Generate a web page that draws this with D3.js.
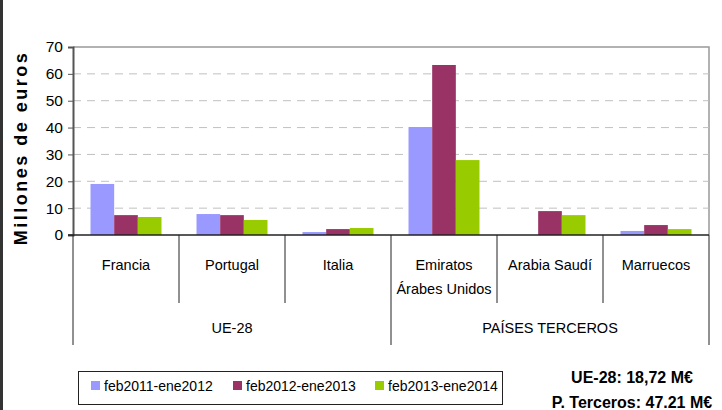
<!DOCTYPE html>
<html>
<head>
<meta charset="utf-8">
<script src="https://cdn.jsdelivr.net/npm/d3@7"></script>
<style>
  body { margin: 0; background: #fff; }
  svg text { font-family: "Liberation Sans", Arial, sans-serif; fill: #000; }
</style>
</head>
<body>
<svg id="chart" width="722" height="410"></svg>
<script>
// data
var categories = ["Francia", "Portugal", "Italia", "Emiratos|Árabes Unidos", "Arabia Saudí", "Marruecos"];
var groups = [
    {name: "UE-28", from: 0, to: 3},
    {name: "PAÍSES TERCEROS", from: 3, to: 6}
];
var series = ["feb2011-ene2012", "feb2012-ene2013", "feb2013-ene2014"];
var s2011 = [19.0, 7.8, 1.1, 40.2, 0, 1.5];
var s2012 = [7.4, 7.4, 2.2, 63.3, 8.9, 3.7];
var s2013 = [6.7, 5.6, 2.6, 27.9, 7.4, 2.2];
var yTicks = [0, 10, 20, 30, 40, 50, 60, 70];
var notes = ["UE-28: 18,72 M€", "P. Terceros: 47.21 M€"];

var colors = ["#9999ff", "#993366", "#99cc00"];

var svg = d3.select("#chart");
var plotLeft = 73, plotRight = 709, plotTop = 47, plotBottom = 235;

// outer left frame line
svg.append("line").attr("x1", 1.5).attr("x2", 1.5).attr("y1", 0).attr("y2", 410)
    .attr("stroke", "#333").attr("stroke-width", 3);

var x0 = d3.scaleBand().domain(d3.range(categories.length)).range([plotLeft, plotRight]).padding(0);
var x1 = d3.scaleBand().domain(d3.range(series.length)).range([0, x0.bandwidth()])
    .paddingInner(0).paddingOuter(0.74);
var y = d3.scaleLinear().domain([0, 70]).range([plotBottom, plotTop]);

// plot frame (top / right)
svg.append("path")
    .attr("d", "M" + plotLeft + "," + plotTop + "H" + plotRight + "V" + plotBottom)
    .attr("fill", "none").attr("stroke", "#999").attr("stroke-width", 1.5);

// dashed grid
svg.append("g").selectAll("line").data(yTicks.filter(d => d > 0 && d < 70)).enter().append("line")
    .attr("x1", plotLeft).attr("x2", plotRight)
    .attr("y1", d => y(d)).attr("y2", d => y(d))
    .attr("stroke", "#c0c0c0").attr("stroke-dasharray", "8,6");

// bars
var rows = categories.map((c, i) => [s2011[i], s2012[i], s2013[i]]);
var cat = svg.append("g").selectAll("g").data(rows).enter().append("g")
    .attr("transform", (d, i) => "translate(" + x0(i) + ",0)");
cat.selectAll("rect").data(d => d).enter().append("rect")
    .attr("x", (d, j) => x1(j))
    .attr("width", x1.bandwidth())
    .attr("y", d => y(d))
    .attr("height", d => plotBottom - y(d))
    .attr("fill", (d, j) => colors[j]);

// y axis
var yAxis = d3.axisLeft(y).tickValues(yTicks).tickSize(5).tickPadding(5);
var ya = svg.append("g").attr("transform", "translate(" + plotLeft + ",0)").call(yAxis);
ya.select(".domain").attr("stroke", "#555").attr("stroke-width", 2);
ya.selectAll(".tick line").attr("stroke", "#555");
ya.selectAll(".tick text").attr("font-size", 15.5)
    .style("font-family", "'Liberation Sans', Arial, sans-serif");

// zero line
svg.append("line").attr("x1", plotLeft - 5).attr("x2", plotRight).attr("y1", plotBottom).attr("y2", plotBottom)
    .attr("stroke", "#222").attr("stroke-width", 1.5);

// category dividers
svg.append("g").selectAll("line").data(d3.range(categories.length + 1)).enter().append("line")
    .attr("x1", i => i < categories.length ? x0(i) : plotRight)
    .attr("x2", i => i < categories.length ? x0(i) : plotRight)
    .attr("y1", plotBottom)
    .attr("y2", i => (i % 3 == 0) ? 345 : 303)
    .attr("stroke", "#222").attr("stroke-width", 1);

// category labels
var labels = svg.append("g").selectAll("text").data(categories).enter().append("text")
    .attr("x", (d, i) => x0(i) + x0.bandwidth() / 2)
    .attr("y", 270)
    .attr("text-anchor", "middle")
    .attr("font-size", 14.5);
labels.each(function (d) {
    var parts = d.split("|");
    var t = d3.select(this);
    parts.forEach((p, k) => t.append("tspan").attr("x", t.attr("x")).attr("dy", k == 0 ? 0 : 24).text(p));
});

// group labels
svg.append("g").selectAll("text").data(groups).enter().append("text")
    .attr("x", g => (x0(g.from) + (g.to < categories.length ? x0(g.to) : plotRight)) / 2)
    .attr("y", 333)
    .attr("text-anchor", "middle")
    .attr("font-size", 14.5)
    .text(g => g.name);

// y title
svg.append("text")
    .attr("transform", "translate(27,148) rotate(-90)")
    .attr("text-anchor", "middle")
    .attr("font-size", 18).attr("font-weight", "bold")
    .attr("letter-spacing", 2.5)
    .text("Millones de euros");

// legend
var lg = svg.append("g");
lg.append("rect").attr("x", 78.5).attr("y", 371.5).attr("width", 424).attr("height", 33)
    .attr("fill", "#fff").attr("stroke", "#222");
var legendX = [91, 233, 375];
var items = lg.selectAll("g").data(series).enter().append("g")
    .attr("transform", (d, i) => "translate(" + legendX[i] + ",381)");
items.append("rect").attr("width", 9).attr("height", 9).attr("fill", (d, i) => colors[i]);
items.append("text").attr("x", 13).attr("y", 10).attr("font-size", 14).text(d => d);

// totals
svg.append("g").selectAll("text").data(notes).enter().append("text")
    .attr("x", 632).attr("y", (d, i) => 383 + i * 25)
    .attr("text-anchor", "middle")
    .attr("font-size", 16).attr("font-weight", "bold")
    .text(d => d);
</script>
</body>
</html>
